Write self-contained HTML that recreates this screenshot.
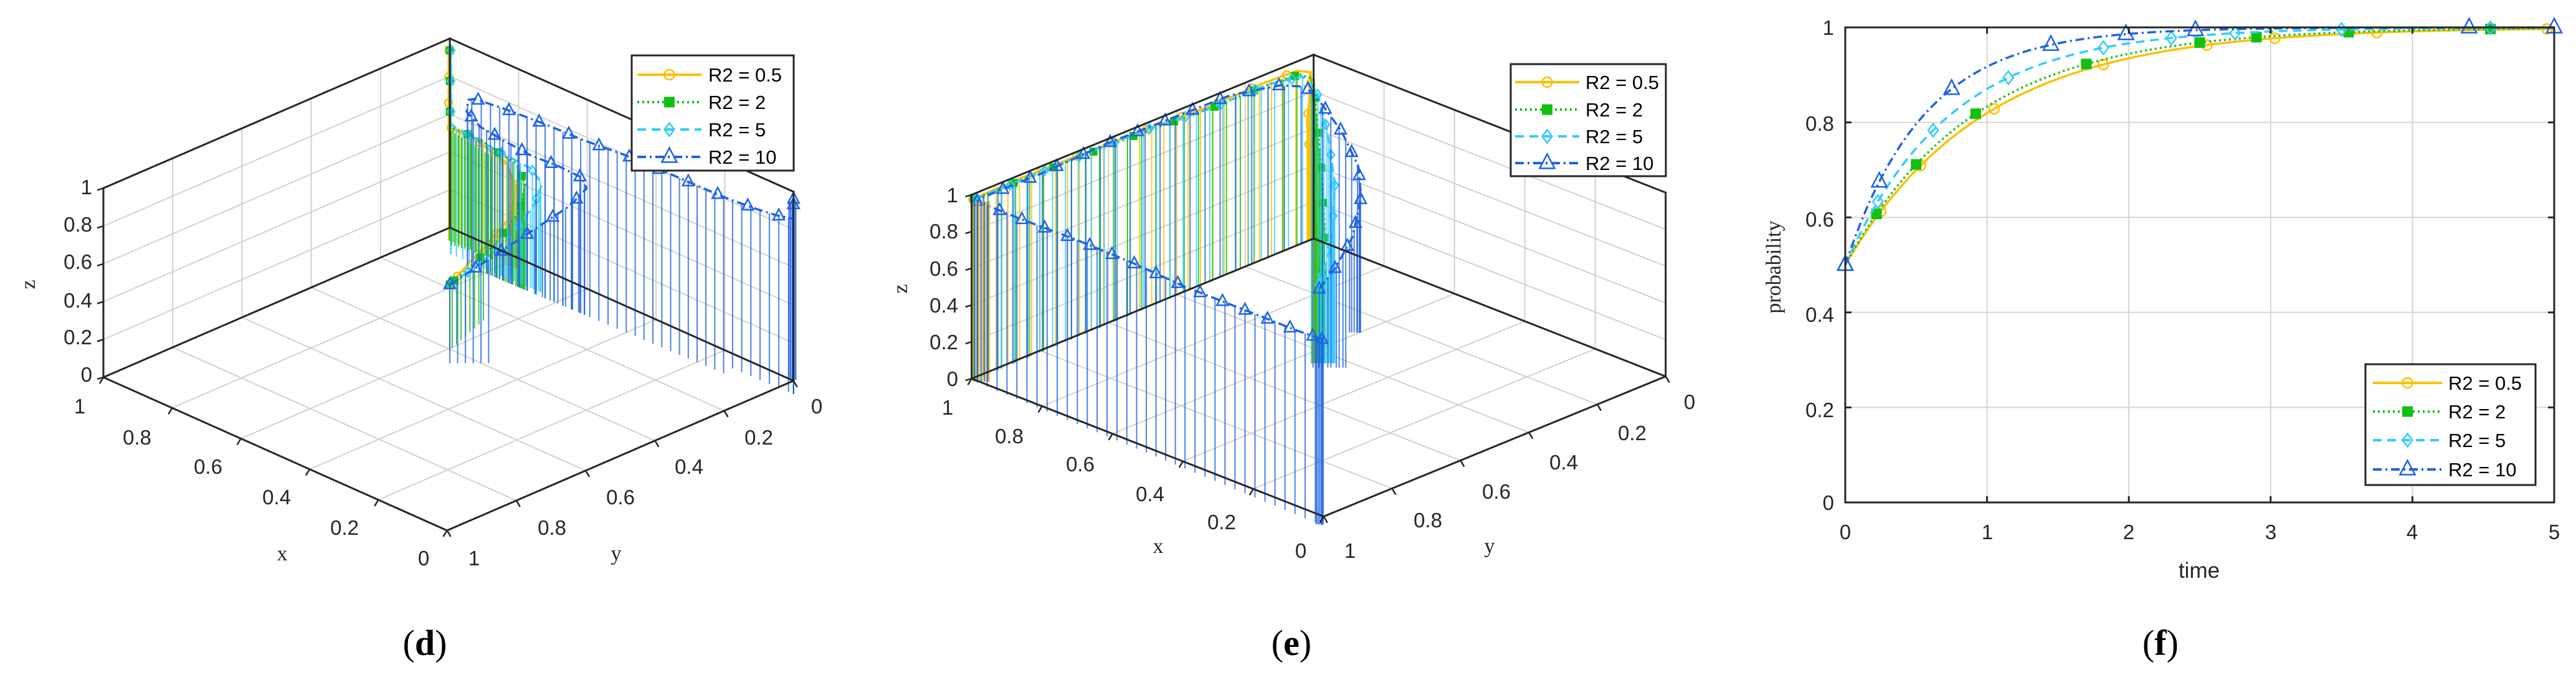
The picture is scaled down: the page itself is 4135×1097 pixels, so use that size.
<!DOCTYPE html>
<html><head><meta charset="utf-8"><style>
html,body{margin:0;padding:0;background:#fff;width:4135px;height:1097px;overflow:hidden}
svg{display:block}
.t{font-family:"Liberation Sans",Arial,sans-serif;font-size:33px;fill:#262626}
.s{font-family:"Liberation Serif","Times New Roman",serif;font-size:34px;fill:#262626}
.cap{font-family:"Liberation Serif","Times New Roman",serif;font-size:58px;fill:#000}
.lg{font-family:"Liberation Sans",Arial,sans-serif;font-size:31px;fill:#000}
</style></head><body>
<svg id="s" xmlns="http://www.w3.org/2000/svg" width="4135" height="1097" viewBox="0 0 4135 1097">
<rect width="4135" height="1097" fill="#fff"/>
<g id="grid"></g><g id="data"></g><g id="box"></g>
<g class="t" text-anchor="end">
<text x="148" y="312">1</text><text x="148" y="372">0.8</text><text x="148" y="432">0.6</text><text x="148" y="494">0.4</text><text x="148" y="553">0.2</text><text x="148" y="613">0</text>
</g>
<g class="t" text-anchor="middle">
<text x="128" y="664">1</text><text x="220" y="714">0.8</text><text x="334" y="761">0.6</text><text x="444" y="810">0.4</text><text x="553" y="859">0.2</text><text x="680" y="908">0</text>
<text x="761" y="908">1</text><text x="886" y="859">0.8</text><text x="996" y="810">0.6</text><text x="1106" y="761">0.4</text><text x="1218" y="714">0.2</text><text x="1311" y="664">0</text>
</g>
<text class="s" x="453" y="900" text-anchor="middle">x</text>
<text class="s" x="989" y="900" text-anchor="middle">y</text>
<text class="s" transform="translate(56,457) rotate(-90)" text-anchor="middle">z</text>
<text class="cap" x="682" y="1052" text-anchor="middle">(<tspan font-weight="bold">d</tspan>)</text>
<g class="t" text-anchor="end">
<text x="1538" y="325">1</text><text x="1538" y="383">0.8</text><text x="1538" y="443">0.6</text><text x="1538" y="502">0.4</text><text x="1538" y="561">0.2</text><text x="1538" y="620">0</text>
</g>
<g class="t" text-anchor="middle">
<text x="1521" y="666">1</text><text x="1620" y="712">0.8</text><text x="1734" y="757">0.6</text><text x="1846" y="805">0.4</text><text x="1961" y="850">0.2</text><text x="2088" y="896">0</text>
<text x="2167" y="896">1</text><text x="2292" y="847">0.8</text><text x="2402" y="801">0.6</text><text x="2510" y="754">0.4</text><text x="2620" y="707">0.2</text><text x="2712" y="657">0</text>
</g>
<text class="s" x="1859" y="888" text-anchor="middle">x</text>
<text class="s" x="2391" y="888" text-anchor="middle">y</text>
<text class="s" transform="translate(1456,464) rotate(-90)" text-anchor="middle">z</text>
<text class="cap" x="2073" y="1052" text-anchor="middle">(<tspan font-weight="bold">e</tspan>)</text>
<g class="t" text-anchor="end">
<text x="2944" y="56">1</text><text x="2944" y="210">0.8</text><text x="2944" y="364">0.6</text><text x="2944" y="517">0.4</text><text x="2944" y="670">0.2</text><text x="2944" y="819">0</text>
</g>
<g class="t" text-anchor="middle">
<text x="2962" y="866">0</text><text x="3190" y="866">1</text><text x="3417" y="866">2</text><text x="3645" y="866">3</text><text x="3872" y="866">4</text><text x="4100" y="866">5</text>
</g>
<text class="t" x="3530" y="928" text-anchor="middle" style="font-size:35px">time</text>
<text class="s" transform="translate(2858,429) rotate(-90)" text-anchor="middle">probability</text>
<text class="cap" x="3468" y="1052" text-anchor="middle">(<tspan font-weight="bold">f</tspan>)</text>
<g id="leg"></g>
</svg>
<script>
var NS="http://www.w3.org/2000/svg";
function el(par,tag,at){var e=document.createElementNS(NS,tag);for(var k in at)e.setAttribute(k,at[k]);document.getElementById(par).appendChild(e);return e;}
function ln(par,a,b,c,w,extra){var at={x1:a[0],y1:a[1],x2:b[0],y2:b[1],stroke:c,"stroke-width":w};for(var k in extra)at[k]=extra[k];return el(par,"line",at);}
var Y="#FFBF00",G="#11C011",C="#33CCFF",B="#1F62E6";
var DASH={y:"",g:"3,5",c:"14,9",b:"14,6,3,6"};
function mk(off){return function(p){return [off+p[0]*0.897,p[1]*0.703];};}
function box(off,L,Bk,R,H){
 var T=mk(off);
 function P(a,b,z){return T([Bk[0]+a*(L[0]-Bk[0])+b*(R[0]-Bk[0]),Bk[1]+a*(L[1]-Bk[1])+b*(R[1]-Bk[1])-z*H]);}
 var gc="#d2d2d2",gw=2;
 for(var i=1;i<5;i++){var f=i/5;
  ln("grid",P(f,0,0),P(f,1,0),gc,gw);ln("grid",P(0,f,0),P(1,f,0),gc,gw);
  ln("grid",P(f,0,0),P(f,0,1),gc,gw);ln("grid",P(0,f,0),P(0,f,1),gc,gw);
  ln("grid",P(0,0,f),P(1,0,f),gc,gw);ln("grid",P(0,0,f),P(0,1,f),gc,gw);}
 var k="#262626",w=3;
 [[P(1,0,0),P(1,0,1)],[P(0,1,0),P(0,1,1)],[P(0,0,0),P(0,0,1)],[P(1,0,1),P(0,0,1)],[P(0,0,1),P(0,1,1)],
  [P(1,0,0),P(0,0,0)],[P(0,0,0),P(0,1,0)],[P(1,0,0),P(1,1,0)],[P(1,1,0),P(0,1,0)]].forEach(function(s){ln("box",s[0],s[1],k,w,{"stroke-linecap":"square"});});
 for(var i=0;i<=5;i++){var f=i/5;var a=P(1,0,f);ln("box",a,[a[0]-10,a[1]+3],k,2.5);
  var p=P(1-f,1,0);ln("box",p,[p[0]+6,p[1]+10],k,2.5);
  var q=P(1,1-f,0);ln("box",q,[q[0]-6,q[1]+10],k,2.5);}
}
box(0,[185,862],[805,520],[1420,870],432);
box(1400,[178,865],[790,545],[1420,860],420);
function interp(pts,step){var out=[pts[0]];var acc=0;for(var i=1;i<pts.length;i++){var a=pts[i-1],b=pts[i];var d=Math.hypot(b[0]-a[0],b[1]-a[1]);var pos=step-acc;while(pos<=d){out.push([a[0]+(b[0]-a[0])*pos/d,a[1]+(b[1]-a[1])*pos/d]);pos+=step;}acc=d-(pos-step);}out.push(pts[pts.length-1]);return out;}
function poly(par,pts,c,w,dash){return el(par,"polyline",{points:pts.map(function(p){return p[0].toFixed(1)+","+p[1].toFixed(1);}).join(" "),fill:"none",stroke:c,"stroke-width":w,"stroke-dasharray":dash,"stroke-linejoin":"round"});}
function marker(par,p,type,c,s){
 if(type=="o")el(par,"circle",{cx:p[0],cy:p[1],r:s,fill:"none",stroke:c,"stroke-width":2.5});
 else if(type=="s")el(par,"rect",{x:p[0]-s,y:p[1]-s,width:2*s,height:2*s,fill:c,stroke:c});
 else if(type=="d")el(par,"polygon",{points:[p[0],p[1]-s*1.3,p[0]+s,p[1],p[0],p[1]+s*1.3,p[0]-s,p[1]].join(","),fill:"none",stroke:c,"stroke-width":2.5});
 else el(par,"polygon",{points:[p[0],p[1]-s*1.2,p[0]+s,p[1]+s*0.7,p[0]-s,p[1]+s*0.7].join(","),fill:"none",stroke:c,"stroke-width":2.5});
}
function series(off,pts,c,dash,mt,stemStep,bottom,mStep){
 var T=mk(off);
 var sp=interp(pts,stemStep);
 sp.forEach(function(p){var b=bottom(p);if(b>p[1]+4)ln("data",T(p),T([p[0],b]),c,2,{opacity:0.8});});
 poly("data",pts.map(T),c,3.5,dash);
 interp(pts,mStep).forEach(function(p){marker("data",T(p),mt,c,mt=="t"?9:6);});
}
var dfl=function(p){return 550+(p[0]-805)*0.537;};
series(0,[[803,115],[803,290],[850,318],[905,370],[925,430],[910,500],[870,560],[840,600],[805,650]],Y,DASH.y,"o",10,dfl,60);
series(0,[[805,115],[805,288],[860,320],[925,375],[940,420],[930,480],[885,560],[845,605],[805,650]],G,DASH.g,"s",12,function(p){return p[0]<870?Math.max(dfl(p),p[1]+150):dfl(p)+40;},70);
series(0,[[807,115],[807,285],[870,330],[950,385],[970,420],[955,470],[900,560],[850,610],[805,650]],C,DASH.c,"d",14,function(p){return dfl(p)+30;},70);
series(0,[[805,650],[860,605],[1020,470],[1050,430],[1040,405],[1000,380],[950,355],[900,320],[860,290],[835,255],[838,228],[850,226],[910,252],[978,285],[1040,318],[1120,355],[1195,395],[1255,428],[1305,455],[1355,478],[1390,492],[1420,500],[1420,455]],B,DASH.b,"t",18,function(p){return p[0]>1300?dfl(p)+20:(p[0]<880&&p[1]>560?830:dfl(p)+40);},60);
(function(){var T=mk(0);for(var x=1412;x<=1424;x+=3)ln("data",T([x,460]),T([x,868]),B,2);
 for(var x=808;x<=880;x+=6)ln("data",T([x,300+(x-808)*0.8]),T([x,560+(x-808)*0.4]),x%12?G:Y,2,{opacity:0.85});})();
var ewall=function(p){return p[0]>785?830:870-(p[0]-180)*0.533;};
series(1400,[[180,455],[260,410],[370,355],[480,300],[600,245],[700,190],[760,162],[785,165],[785,200],[778,280],[790,450],[798,560],[800,640]],Y,DASH.y,"o",24,ewall,70);
series(1400,[[182,455],[265,412],[375,357],[485,302],[605,248],[705,195],[765,170],[790,180],[795,260],[805,400],[810,520],[805,640]],G,DASH.g,"s",28,ewall,80);
series(1400,[[185,455],[270,410],[380,352],[490,297],[610,245],[710,192],[770,175],[795,205],[815,300],[828,420],[822,560],[800,650]],C,DASH.c,"d",26,ewall,70);
series(1400,[[800,660],[830,610],[860,540],[875,450],[870,380],[840,300],[800,230],[775,198],[730,195],[640,218],[540,268],[420,328],[300,398],[200,450],[188,460]],B,DASH.b,"t",30,function(p){return p[0]>785?(p[0]>850?760:840):870-(p[0]-180)*0.533;},55);
series(1400,[[188,460],[265,500],[360,545],[465,600],[560,655],[670,710],[760,755],[805,775]],B,DASH.b,"t",20,function(p){return 870+(p[0]-180)*0.528;},45);
(function(){var T=mk(1400);for(var x=180;x<=210;x+=3)ln("data",T([x,460]),T([x,872]),x%6?B:Y,2,{opacity:0.9});for(var x=795;x<=808;x+=3)ln("data",T([x,770]),T([x,1198]),B,2,{opacity:0.9});})();
(function(){
 var X=function(t){return 2962+t*227.6;},Yf=function(p){return 807-p*763;};
 for(var i=1;i<5;i++)ln("grid",[X(i),44],[X(i),807],"#d6d6d6",2);
 for(var i=1;i<5;i++)ln("grid",[2962,Yf(i*0.2)],[4100,Yf(i*0.2)],"#d6d6d6",2);
 el("box","rect",{x:2962,y:44,width:1138,height:763,fill:"none",stroke:"#262626","stroke-width":3});
 for(var i=0;i<=5;i++){ln("box",[X(i),807],[X(i),797],"#262626",3);ln("box",[X(i),44],[X(i),54],"#262626",3);}
 for(var i=0;i<=5;i++){ln("box",[2962,Yf(i*0.2)],[2972,Yf(i*0.2)],"#262626",3);ln("box",[4100,Yf(i*0.2)],[4090,Yf(i*0.2)],"#262626",3);}
 var S=[[Y,DASH.y,"o",1.02,[0.25,0.53,1.05,1.82,2.55,3.03,3.75,4.95]],[G,DASH.g,"s",1.1,[0.22,0.5,0.92,1.7,2.5,2.9,3.55,4.55]],[C,DASH.c,"d",1.35,[0.23,0.62,1.15,1.82,2.3,2.75,3.5,4.55]],[B,DASH.b,"t",1.8,[0,0.24,0.75,1.45,1.98,2.47,4.4,5]]];
 S.forEach(function(s){var pts=[];for(var t=0;t<=5.001;t+=0.05)pts.push([X(t),Yf(1-0.5*Math.exp(-s[3]*t))]);poly("data",pts,s[0],3.5,s[1]);
  s[4].forEach(function(t){marker("data",[X(t),Yf(1-0.5*Math.exp(-s[3]*t))],s[2],s[0],s[2]=="t"?12:8);});});
 marker("data",[X(0),Yf(0.5)],"t",B,12);
})();
function legend(x0,y0,x1,y1,lx0,lx1,tx,rows){
 el("leg","rect",{x:x0,y:y0,width:x1-x0,height:y1-y0,fill:"#fff",stroke:"#262626","stroke-width":3});
 var items=[[Y,DASH.y,"o","R2 = 0.5"],[G,DASH.g,"s","R2 = 2"],[C,DASH.c,"d","R2 = 5"],[B,DASH.b,"t","R2 = 10"]];
 items.forEach(function(it,i){var y=rows[i];ln("leg",[lx0,y],[lx1,y],it[0],4,{"stroke-dasharray":it[1]});marker("leg",[(lx0+lx1)/2,y],it[2],it[0],it[2]=="t"?12:8);
  var t=el("leg","text",{x:tx,y:y+11,"class":"lg"});t.textContent=it[3];});
}
legend(1014,89,1274,274,1023,1126,1137,[120,164,208,252]);
legend(2425,103,2674,283,2432,2535,2545,[132,176,219,262]);
legend(3797,585,4070,779,3809,3920,3930,[615,661,707,754]);
</script>
</body></html>
